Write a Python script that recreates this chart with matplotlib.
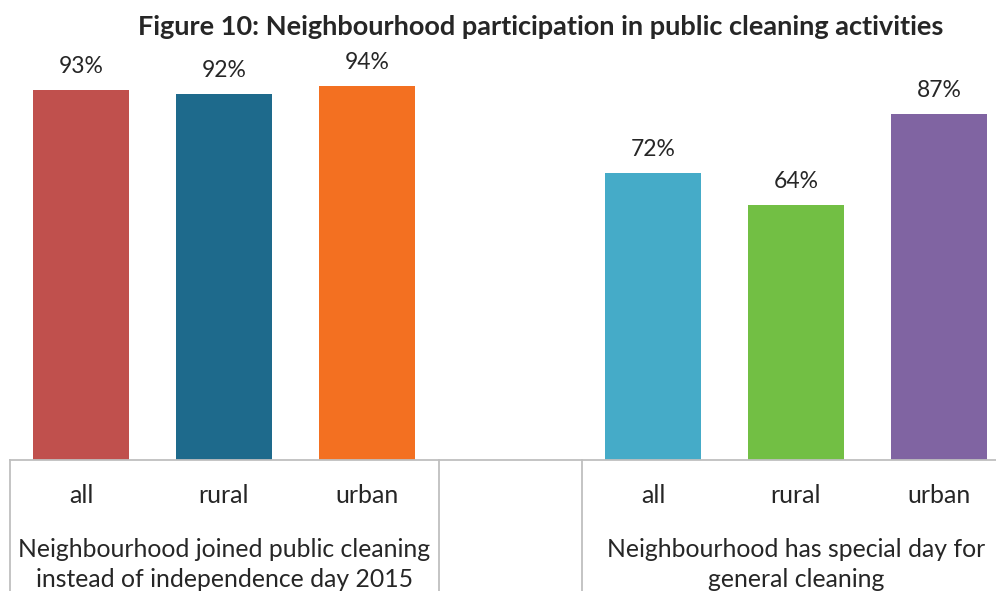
import matplotlib.pyplot as plt
import numpy as np

groups = ["Neighbourhood joined public cleaning\ninstead of independence day 2015",
          "Neighbourhood has special day for\ngeneral cleaning"]
subcats = ["all", "rural", "urban"]
joined = [93, 92, 94]
special_day = [72, 64, 87]
colors = ["#C0504D", "#1E6A8C", "#F37021", "#45ABC8", "#72BF44", "#8064A2"]

plt.rcParams['font.family'] = ['Lato', 'DejaVu Sans']
txt = "#262626"
grid_c = "#BFBFBF"

fig = plt.figure(figsize=(9.96, 5.91), dpi=100)
W, H = 996, 591
# axes in pixel terms: left 9.5, bottom at y=460, 7 slots of 143 px
ax = fig.add_axes([9.5 / W, (H - 460) / H, 1001 / W, 398 / H])

pos = np.r_[np.arange(3), np.arange(3) + 4]
vals = joined + special_day
labels = subcats + subcats
bars = ax.bar(pos, vals, width=0.67, color=colors, zorder=2)

for x, v in zip(pos, vals):
    ax.annotate(f"{v}%", (x, v), xytext=(0, 17), textcoords="offset points",
                ha="center", va="center", fontsize=16.5, color=txt)

ax.set_xlim(-0.5, 6.5)
ax.set_ylim(0, 100)
ax.set_xticks([])
ax.set_yticks([])
for s in ["top", "right", "left"]:
    ax.spines[s].set_visible(False)
ax.spines["bottom"].set_color(grid_c)
ax.spines["bottom"].set_linewidth(1.3)

tr = ax.get_xaxis_transform()
for x, lab in zip(pos, labels):
    ax.annotate(lab, (x, 0), xycoords=tr, xytext=(0, -25.5), textcoords="offset points",
                ha="center", va="center", fontsize=18, color=txt)
for x, g in zip([1, 5], groups):
    ax.annotate(g, (x, 0), xycoords=tr, xytext=(0, -75.5), textcoords="offset points",
                ha="center", va="center", fontsize=17.8, color=txt, linespacing=1.38)

# group separators below the axis
for x in [-0.5, 2.5, 3.5]:
    ax.plot([x, x], [0, -0.5], transform=tr, color=grid_c, lw=1.3, clip_on=False)

fig.text(541 / W, 1 - 27 / H, "Figure 10: Neighbourhood participation in public cleaning activities",
         ha="center", va="center", fontsize=19.5, fontweight="bold", color=txt)

fig.savefig("out.png", dpi=100)
